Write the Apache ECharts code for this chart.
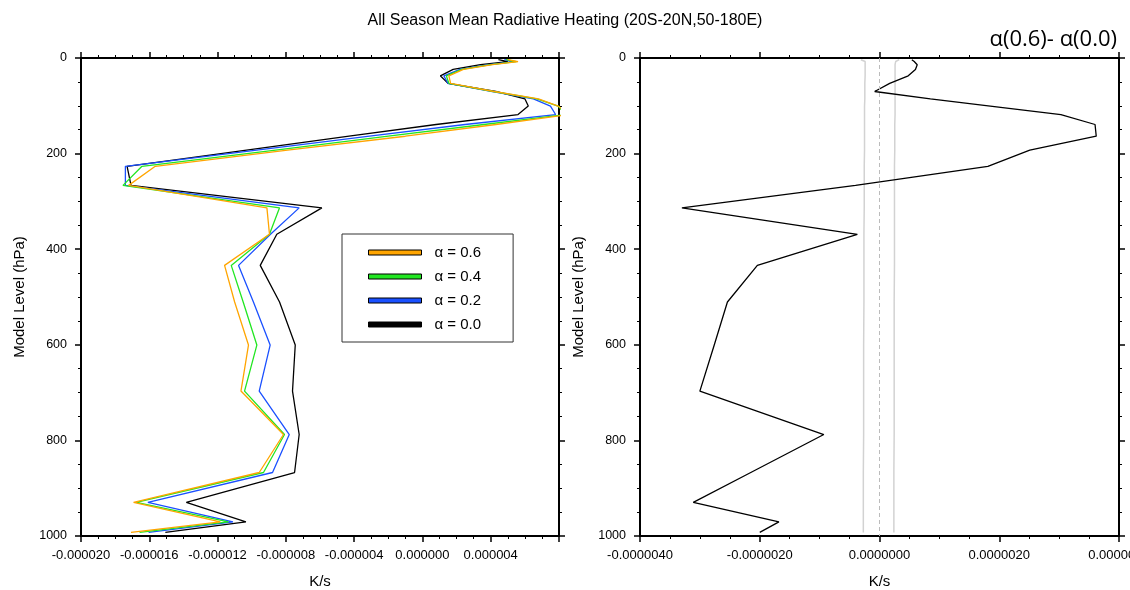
<!DOCTYPE html>
<html>
<head>
<meta charset="utf-8">
<script src="https://cdn.jsdelivr.net/npm/echarts@6/dist/echarts.min.js"></script>
<style>
  html, body { margin: 0; padding: 0; background: #fff; }
  #chart { width: 1130px; height: 590px; }
</style>
</head>
<body>
<div id="chart"></div>
<script>
// Model mid-level pressures (hPa), top to bottom
const levels = [3.54, 7.39, 13.97, 23.94, 37.23, 53.11, 70.06, 85.44, 100.51, 118.25,
  139.12, 163.66, 192.54, 226.51, 266.48, 313.50, 368.82, 433.90, 510.46, 600.52,
  696.80, 787.70, 867.16, 929.65, 970.55, 992.56];

// Radiative heating, units of 1e-6 K/s, one value per level
const heatA00 = [4.45, 5.0, 3.4, 1.8, 1.05, 1.5, 4.3, 6.0, 6.2, 5.6,
  0.8, -4.3, -10.3, -17.3, -17.07, -5.89, -8.53, -9.5, -8.37, -7.45,
  -7.61, -7.22, -7.49, -13.83, -10.34, -15.06];
const heatA02 = [4.8, 5.35, 3.9, 2.2, 1.25, 1.5, 4.1, 6.5, 7.5, 7.8,
  2.5, -3.1, -9.7, -17.4, -17.4, -7.22, -8.9, -10.77, -9.9, -8.92,
  -9.56, -7.8, -8.78, -16.08, -11.1, -16.04];
const heatA04 = [4.9, 5.5, 4.0, 2.3, 1.4, 1.55, 4.15, 6.7, 7.95, 8.4,
  3.6, -2.0, -8.6, -16.43, -17.54, -8.37, -8.96, -11.2, -10.5, -9.7,
  -10.42, -8.08, -9.31, -16.76, -11.36, -16.57];
const heatA06 = [5.0, 5.6, 4.1, 2.4, 1.55, 1.65, 4.2, 6.8, 7.95, 8.6,
  4.3, -1.0, -7.9, -15.65, -17.21, -9.11, -8.96, -11.59, -11.0, -10.19,
  -10.63, -8.14, -9.56, -16.92, -11.84, -17.07];

// Difference alpha 0.6 minus alpha 0.0 (1e-6 K/s) and its significance band
const diffA06A00 = [0.54, 0.58, 0.63, 0.60, 0.48, 0.17, -0.08, 0.85, 1.85, 3.03,
  3.60, 3.62, 2.51, 1.81, -0.40, -3.30, -0.37, -2.04, -2.54, -2.76,
  -3.00, -0.93, -2.15, -3.11, -1.68, -2.00];
const bandUpper = [0.33, 0.27, 0.26, 0.26, 0.26, 0.26, 0.26, 0.26, 0.26, 0.26,
  0.255, 0.255, 0.255, 0.25, 0.25, 0.25, 0.25, 0.25, 0.245, 0.245,
  0.245, 0.245, 0.24, 0.24, 0.24, 0.24];
const bandLower = [-0.31, -0.24, -0.24, -0.24, -0.24, -0.245, -0.245, -0.245, -0.25, -0.25,
  -0.25, -0.25, -0.25, -0.255, -0.255, -0.255, -0.26, -0.26, -0.26, -0.265,
  -0.265, -0.265, -0.27, -0.27, -0.27, -0.27];

const seriesNames = ['\u03b1 = 0.6', '\u03b1 = 0.4', '\u03b1 = 0.2', '\u03b1 = 0.0'];
const seriesColors = ['#ffa500', '#22e622', '#1a50ff', '#000000'];

const FONT = 'Liberation Sans';
const pairs = vals => vals.map((v, i) => [v, levels[i]]);
const fmt = digits => v => (Math.round(v * 1000) / 1000 * 1e-6).toFixed(digits);

function xAxisFor(gridIndex, pos, min, max, interval, digits, withLabels) {
  return {
    type: 'value', gridIndex, position: pos, min, max, interval,
    name: withLabels ? 'K/s' : '', nameLocation: 'middle', nameGap: 38,
    nameTextStyle: { fontFamily: FONT, fontSize: 15, color: '#000' },
    axisLine: { show: true, onZero: false, lineStyle: { color: '#000', width: 2 } },
    axisTick: { show: true, inside: false, length: 6, lineStyle: { color: '#000', width: 1.5 } },
    minorTick: { show: true, splitNumber: 4, length: 3, lineStyle: { color: '#000', width: 1 } },
    axisLabel: { show: withLabels, formatter: fmt(digits), fontFamily: FONT, fontSize: 13,
      color: '#000', margin: 13, showMaxLabel: gridIndex === 1 },
    splitLine: { show: false }
  };
}
function yAxisFor(gridIndex, pos, withLabels) {
  return {
    type: 'value', gridIndex, position: pos, inverse: true, min: 0, max: 1000, interval: 200,
    name: withLabels ? 'Model Level (hPa)' : '', nameLocation: 'middle', nameGap: 54,
    nameTextStyle: { fontFamily: FONT, fontSize: 15, color: '#000' },
    axisLine: { show: true, onZero: false, lineStyle: { color: '#000', width: 2 } },
    axisTick: { show: true, inside: false, length: 6, lineStyle: { color: '#000', width: 1.5 } },
    minorTick: { show: true, splitNumber: 4, length: 3, lineStyle: { color: '#000', width: 1 } },
    axisLabel: { show: withLabels, formatter: v => String(v), fontFamily: FONT, fontSize: 12.5,
      color: '#000', margin: 14 },
    splitLine: { show: false }
  };
}

const heatSets = [heatA00, heatA02, heatA04, heatA06];
const leftSeries = [3, 2, 1, 0].map(k => ({
  name: seriesNames[k], type: 'line', xAxisIndex: 0, yAxisIndex: 0,
  data: pairs(heatSets[3 - k]), showSymbol: false, symbol: 'none', clip: true,
  color: seriesColors[k], lineStyle: { color: seriesColors[k], width: 1.3 },
  animation: false
}));

const chart = echarts.init(document.getElementById('chart'), null, { renderer: 'canvas' });
chart.setOption({
  backgroundColor: '#fff',
  animation: false,
  title: {
    text: 'All Season Mean Radiative Heating (20S-20N,50-180E)',
    left: 'center', top: 8,
    textStyle: { fontFamily: FONT, fontSize: 16, fontWeight: 'normal', color: '#000' }
  },
  graphic: [{
    type: 'text', right: 13, top: 29,
    style: { text: '\u03b1(0.6)- \u03b1(0.0)', font: '22px "Open Sans"', fill: '#000' }
  }],
  legend: {
    data: seriesNames, orient: 'vertical', left: 342, top: 234,
    padding: [11, 32, 10, 26], itemWidth: 53, itemHeight: 5, itemGap: 9,
    icon: 'rect', borderColor: '#333', borderWidth: 1, backgroundColor: '#fff',
    itemStyle: { borderColor: '#000', borderWidth: 1 },
    textStyle: { fontFamily: FONT, fontSize: 15, color: '#000', padding: [0, 0, 0, 8] },
    selectedMode: false
  },
  grid: [
    { left: 81, top: 58, width: 478, height: 478, outerBoundsMode: 'none', containLabel: false },
    { left: 640, top: 58, width: 479, height: 478, outerBoundsMode: 'none', containLabel: false }
  ],
  xAxis: [
    xAxisFor(0, 'bottom', -20, 8, 4, 6, true),
    xAxisFor(0, 'top', -20, 8, 4, 6, false),
    xAxisFor(1, 'bottom', -4, 4, 2, 7, true),
    xAxisFor(1, 'top', -4, 4, 2, 7, false)
  ],
  yAxis: [
    yAxisFor(0, 'left', true),
    yAxisFor(0, 'right', false),
    yAxisFor(1, 'left', true),
    yAxisFor(1, 'right', false)
  ],
  series: leftSeries.concat([
    {
      name: 'band upper', type: 'line', xAxisIndex: 2, yAxisIndex: 2,
      data: pairs(bandUpper), symbol: 'none', showSymbol: false,
      lineStyle: { color: '#d2d2d2', width: 1.5 }, silent: true
    },
    {
      name: 'band lower', type: 'line', xAxisIndex: 2, yAxisIndex: 2,
      data: pairs(bandLower), symbol: 'none', showSymbol: false,
      lineStyle: { color: '#d2d2d2', width: 1.5 }, silent: true
    },
    {
      name: 'difference', type: 'line', xAxisIndex: 2, yAxisIndex: 2,
      data: pairs(diffA06A00), symbol: 'none', showSymbol: false, clip: true,
      lineStyle: { color: '#000', width: 1.3 },
      markLine: {
        silent: true, symbol: 'none', label: { show: false },
        lineStyle: { color: '#bbbbbb', type: [4, 3], width: 1 },
        data: [{ xAxis: 0 }]
      }
    }
  ])
});
</script>
</body>
</html>
